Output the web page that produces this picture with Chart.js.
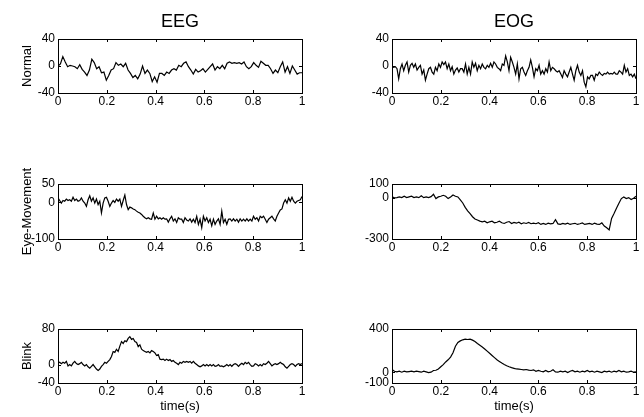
<!DOCTYPE html>
<html><head><meta charset="utf-8">
<script src="https://cdn.jsdelivr.net/npm/chart.js@4/dist/chart.umd.min.js"></script>
<style>
html,body{margin:0;padding:0;background:#fff;}
body{width:644px;height:417px;position:relative;overflow:hidden;}
.cell{position:absolute;}
.cell canvas{display:block;}
</style></head><body>
<div id="wrap"></div>
<script>
// ---- data ----
const colTitles = ['EEG', 'EOG'];
const rowLabels = ['Normal', 'Eye-Movement', 'Blink'];
const xLabel = 'time(s)';
const xTicks = [0, 0.2, 0.4, 0.6, 0.8, 1];

const eegNormal = [0,3,14,6,-1,1,0,-1,-4,2,-5,-9,-14,-6,10,5,-4,-1,-10,-9,-21,-14,-6,-4,5,1,3,-1,4,-6,-11,-17,-14,-19,-12,0,-11,-6,-11,-23,-16,-24,-11,-11,-14,-9,-11,-6,-4,-6,1,-1,4,6,-1,-6,-12,-5,-9,-7,-4,-9,-5,-1,3,-6,-1,-4,1,-4,4,6,4,5,4,5,3,6,-1,-4,-1,5,1,-2,7,4,1,1,-4,-11,-6,-10,-1,6,-9,-1,-11,0,-6,-12,-10,-10];
const eogNormal = [0,-2,-1,-4,-19,-4,3,-7,1,6,-9,1,4,-2,3,-6,-2,1,-12,-6,-21,-12,-4,-2,-9,-12,-2,-7,3,-2,6,2,6,-4,3,-7,-1,-12,-6,-3,-9,-4,-4,-9,3,-12,-2,-12,6,-2,4,-7,1,-4,3,-2,-4,1,-2,4,-2,6,3,-2,-4,-7,3,1,15,6,-7,13,6,-2,-12,3,-19,-4,-2,-9,-14,-7,-2,9,-2,-16,-4,-7,1,-12,-7,-12,-4,-9,6,-7,-2,-4,-7,-9,-7,-12,-17,-7,-12,-16,-9,-2,-12,-21,-7,1,-9,-14,-7,-24,-31,-16,-19,-14,-14,-21,-12,-14,-9,-12,-14,-11,-12,-9,-12,-11,-12,-9,-12,-12,-7,-9,-12,1,-9,-4,-14,-12,-16,-12,-19];
const eegEye = [12,5,-2,5,3,9,5,7,3,14,5,9,3,5,12,3,-2,-11,7,18,3,12,-2,9,-6,3,-29,-2,12,14,3,-11,-2,5,0,9,3,9,-11,5,20,-6,-20,-13,-15,-18,-20,-24,-27,-29,-33,-38,-42,-45,-42,-45,-46,-29,-46,-38,-45,-42,-46,-42,-46,-45,-54,-45,-38,-51,-45,-55,-42,-46,-46,-55,-42,-48,-51,-45,-54,-46,-55,-38,-60,-46,-69,-38,-51,-42,-55,-46,-64,-46,-60,-51,-45,-60,-24,-55,-46,-60,-46,-45,-51,-45,-51,-46,-54,-45,-51,-46,-51,-45,-51,-46,-51,-38,-46,-42,-51,-38,-42,-38,-46,-55,-46,-42,-38,-45,-51,-38,-29,-21,-18,-2,7,-2,12,3,14,3,-2,3,5,7,16];
const eogEye = [6,-1,1,6,1,11,1,6,11,1,6,1,15,1,6,1,8,25,-6,6,11,18,11,-6,6,20,11,6,-16,-38,-70,-95,-115,-138,-154,-162,-170,-175,-171,-182,-175,-171,-182,-178,-171,-182,-187,-178,-173,-187,-180,-185,-178,-189,-182,-187,-180,-189,-185,-189,-182,-194,-187,-194,-185,-190,-187,-160,-190,-194,-187,-192,-185,-194,-189,-186,-194,-189,-183,-194,-190,-187,-194,-185,-192,-194,-183,-206,-218,-234,-150,-115,-76,-40,-6,6,-6,1,-13,-3,11];
const eegBlink = [4,6,3,6,4,8,-2,1,-2,4,8,3,1,3,6,1,-2,1,-4,-7,-3,1,-4,-9,-12,-9,-3,1,6,4,8,12,19,30,28,35,30,42,52,48,54,52,59,63,57,59,52,50,41,45,35,32,30,28,30,27,32,30,27,21,23,13,12,13,10,13,10,12,8,10,6,4,1,6,4,8,6,8,6,8,4,8,4,1,-2,-4,-2,1,-2,1,-2,1,-2,1,-3,-2,1,-3,-2,-4,-2,1,-2,1,-3,1,3,1,-3,1,4,1,6,3,6,1,-3,-2,3,1,-2,1,-2,3,1,4,8,3,-2,1,3,1,3,6,3,1,-4,-7,-3,1,3,1,-3,1,3,1,3];
const eogBlink = [25,9,3,9,0,9,3,6,9,3,9,6,0,9,3,-3,0,16,18,30,50,70,95,115,140,180,240,275,290,300,306,303,306,297,284,265,250,234,215,195,175,155,135,115,100,85,72,60,50,42,36,30,28,25,22,25,19,16,22,9,16,9,3,16,3,9,22,3,0,9,3,9,-3,9,16,3,9,0,9,3,16,3,9,0,9,3,-3,9,3,9,0,9,3,16,3,9,0,3,9,0,3];

const series = [[eegNormal, eogNormal], [eegEye, eogEye], [eegBlink, eogBlink]];
const yRanges = [[[-40, 40], [-40, 40]], [[-100, 50], [-300, 100]], [[-40, 80], [-100, 400]]];
const yTicks = [[[40, 0, -40], [40, 0, -40]], [[50, 0, -100], [100, 0, -300]], [[80, 0, -40], [400, 0, -100]]];

// ---- layout ----
const FONT = "'Liberation Sans', Arial, Helvetica, sans-serif";
const L = {
  cellLeft: [0, 330], cellWidth: 314, boxLeft: [58, 392], boxRight: [302, 636],
  boxTop: [39, 184, 329], boxBottom: [93, 239, 383], xAxisH: [20, 20, 34],
  topPad: 30, titleBaseline: 27, rowLabelBaseline: 31
};

const boxPlugin = {
  id: 'matlabBox',
  afterDraw(chart, args, opts) {
    const {ctx, chartArea: a, scales: {x, y}} = chart;
    const l = Math.round(a.left), t = Math.round(a.top), r = Math.round(a.right), b = Math.round(a.bottom);
    ctx.save();
    ctx.strokeStyle = '#000';
    ctx.lineWidth = 1;
    ctx.strokeRect(l + 0.5, t + 0.5, r - l, b - t);
    ctx.beginPath();
    x.ticks.forEach(tk => {
      const px = Math.round(x.getPixelForValue(tk.value)) + 0.5;
      ctx.moveTo(px, b); ctx.lineTo(px, b - 3);
      ctx.moveTo(px, t); ctx.lineTo(px, t + 3);
    });
    y.ticks.forEach(tk => {
      const py = Math.round(y.getPixelForValue(tk.value)) + 0.5;
      ctx.moveTo(l, py); ctx.lineTo(l + 3, py);
      ctx.moveTo(r, py); ctx.lineTo(r - 3, py);
    });
    ctx.stroke();
    ctx.fillStyle = '#000';
    if (opts.colTitle) {
      ctx.font = '18px ' + FONT;
      ctx.textAlign = 'center';
      ctx.textBaseline = 'alphabetic';
      ctx.fillText(opts.colTitle, (a.left + a.right) / 2, opts.titleY);
    }
    if (opts.rowLabel) {
      ctx.font = '13px ' + FONT;
      ctx.textAlign = 'center';
      ctx.textBaseline = 'alphabetic';
      ctx.translate(opts.rowX, (a.top + a.bottom) / 2);
      ctx.rotate(-Math.PI / 2);
      ctx.fillText(opts.rowLabel, 0, 0);
    }
    ctx.restore();
  }
};

const wrap = document.getElementById('wrap');
for (let row = 0; row < 3; row++) {
  for (let col = 0; col < 2; col++) {
    const vals = series[row][col];
    const cellTop = row === 0 ? 0 : L.boxTop[row] - L.topPad;
    const cellH = L.boxBottom[row] + L.xAxisH[row] - cellTop;
    const div = document.createElement('div');
    div.className = 'cell';
    div.style.left = L.cellLeft[col] + 'px';
    div.style.top = cellTop + 'px';
    div.style.width = L.cellWidth + 'px';
    div.style.height = cellH + 'px';
    const cv = document.createElement('canvas');
    div.appendChild(cv);
    wrap.appendChild(div);
    const padRight = L.cellLeft[col] + L.cellWidth - L.boxRight[col];
    const yW = L.boxLeft[col] - L.cellLeft[col];
    const xH = L.xAxisH[row];
    const yt = yTicks[row][col];
    new Chart(cv, {
      type: 'line',
      data: {
        datasets: [{
          data: vals.map((v, i) => ({x: i / (vals.length - 1), y: v})),
          borderColor: '#000', borderWidth: 1.2, pointRadius: 0, fill: false, tension: 0
        }]
      },
      options: {
        responsive: true, maintainAspectRatio: false, animation: false, devicePixelRatio: 1,
        layout: {padding: {top: L.boxTop[row] - cellTop, right: padRight, left: 0, bottom: 0}},
        plugins: {
          legend: {display: false}, tooltip: {enabled: false}, title: {display: false},
          matlabBox: {
            colTitle: row === 0 ? colTitles[col] : '', titleY: L.titleBaseline,
            rowLabel: col === 0 ? rowLabels[row] : '', rowX: L.rowLabelBaseline
          }
        },
        scales: {
          x: {
            type: 'linear', min: 0, max: 1,
            grid: {display: false, drawTicks: false}, border: {display: false},
            ticks: {autoSkip: false, maxRotation: 0, minRotation: 0, padding: 1, color: '#000',
              font: {family: FONT, size: 12}, callback: v => String(v)},
            afterBuildTicks: s => { s.ticks = xTicks.map(v => ({value: v})); },
            afterFit: s => { s.height = xH; },
            title: {display: row === 2, text: xLabel, color: '#000',
              font: {family: FONT, size: 13}, padding: {top: 0, bottom: 3}}
          },
          y: {
            type: 'linear', min: yRanges[row][col][0], max: yRanges[row][col][1],
            grid: {display: false, drawTicks: false}, border: {display: false},
            ticks: {autoSkip: false, padding: 3, color: '#000',
              font: {family: FONT, size: 12}, callback: v => String(v)},
            afterBuildTicks: s => { s.ticks = yt.map(v => ({value: v})); },
            afterFit: s => { s.width = yW; }
          }
        }
      },
      plugins: [boxPlugin]
    });
  }
}
</script>
</body></html>
